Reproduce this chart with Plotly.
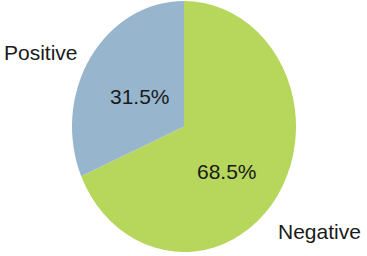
import plotly.graph_objects as go

labels = ["Negative", "Positive"]
values = [68.5, 31.5]
colors = ["#B6D65C", "#97B6CD"]

W, H = 367, 256
cx, cy_top = 184, 126.5
ry, rx = 125.5, 112.0

FONT = "Liberation Sans, Arial, sans-serif"

fig = go.Figure(go.Pie(
    labels=labels,
    values=values,
    sort=False,
    direction="clockwise",
    rotation=0,
    marker=dict(colors=colors, line=dict(width=0)),
    textinfo="none",
    showlegend=False,
    hoverinfo="skip",
    domain=dict(x=[(cx - ry) / W, (cx + ry) / W],
                y=[(H - cy_top - ry) / H, (H - cy_top + ry) / H]),
))

total = sum(values)
pct_pos = {"Positive": (139.5, 96), "Negative": (227, 171.5)}
label_pos = {"Positive": (41, 52), "Negative": (319.5, 231)}
for name, v in zip(labels, values):
    px, py = pct_pos[name]
    fig.add_annotation(
        text=f"{v / total:.1%}", x=px / W, y=1 - py / H, xref="paper", yref="paper",
        showarrow=False, xanchor="center", yanchor="middle",
        font=dict(family=FONT, size=21, color="#1a1a1a"),
    )
    px, py = label_pos[name]
    fig.add_annotation(
        text=name, x=px / W, y=1 - py / H, xref="paper", yref="paper",
        showarrow=False, xanchor="center", yanchor="middle",
        font=dict(family=FONT, size=21, color="#1a1a1a"),
    )

fig.update_layout(
    width=W, height=H,
    margin=dict(l=0, r=0, t=0, b=0),
    paper_bgcolor="white",
    plot_bgcolor="white",
)

sx = rx / ry
post = (
    "var gd=document.getElementById('{plot_id}');"
    "function squash(){gd.querySelectorAll('.pielayer path.surface').forEach(function(p){"
    f"p.setAttribute('transform','translate({cx},0) scale({sx:.4f},1) translate({-cx},0)');"
    "});}"
    "squash(); gd.on('plotly_afterplot', squash);"
)

fig.write_html("out.html", config={"displayModeBar": False}, post_script=post)
